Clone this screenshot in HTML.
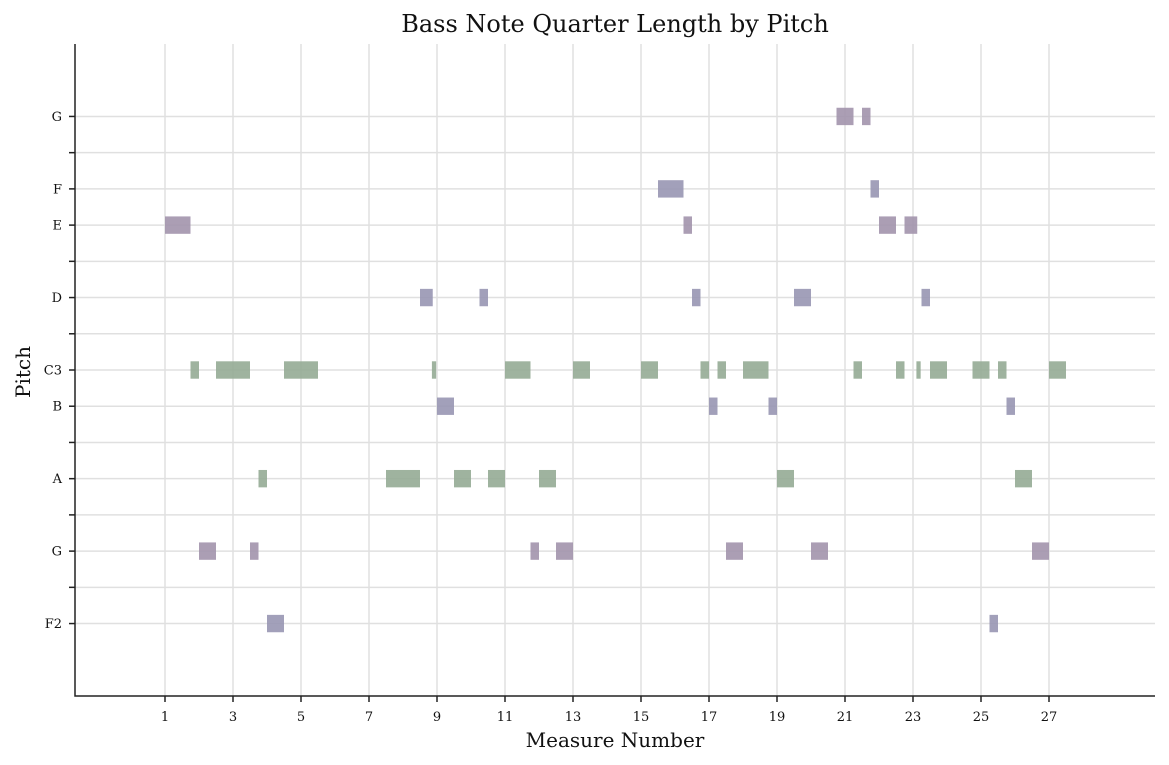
<!DOCTYPE html>
<html><head><meta charset="utf-8"><style>
body{margin:0;background:#fff;}
svg{display:block;font-family:"DejaVu Serif","Liberation Serif",serif;}
</style></head><body>
<svg id="chart" width="1169" height="765" viewBox="0 0 1169 765" xmlns="http://www.w3.org/2000/svg">
<text x="615" y="32" text-anchor="middle" font-size="24" fill="#111">Bass Note Quarter Length by Pitch</text>
<text x="615" y="747" text-anchor="middle" font-size="20" fill="#111">Measure Number</text>
<text transform="translate(30,372) rotate(-90)" text-anchor="middle" font-size="20" fill="#111">Pitch</text>
<g id="grid"></g><g id="bars"></g><g id="axes"></g>
</svg>
<script>
// data: [measure start, pitch (midi), quarter length]
const noteStarts = [1.0, 8.5,10.25, 1.75,2.5,4.5,8.85,11.0,11.5,13.0, 9.0, 3.75,7.5,8.0,9.5,10.5,12.0, 2.0,3.5,11.75,12.5, 4.0,
 20.75,21.5, 15.5,21.75, 16.25,22.0,22.75, 16.5,19.5,23.25, 15.0,16.75,17.25,18.0,21.25,22.5,23.1,23.5,24.75,25.5,27.0, 17.0,18.75,25.75, 19.0,26.0,26.25, 17.5,20.0,26.5,26.75, 25.25];
const notePitches = [52, 50,50, 48,48,48,48,48,48,48, 47, 45,45,45,45,45,45, 43,43,43,43, 41,
 55,55, 53,53, 52,52,52, 50,50,50, 48,48,48,48,48,48,48,48,48,48,48, 47,47,47, 45,45,45, 43,43,43,43, 41];
const noteLengths = [3, 1.5,1, 1,4,4,0.5,2,1,2, 2, 1,2,2,2,2,2, 2,1,1,2, 2,
 2,1, 3,1, 1,2,1.5, 1,2,1, 2,1,1,3,1,1,0.5,2,2,1,2, 1,1,1, 2,1,1, 2,2,1,1, 1];
const yTickValues = [41,43,45,47,48,50,52,53,55];
const yTickLabels = ["F2","G","A","B","C3","D","E","F","G"];
const yMinorTicks = [42,44,46,49,51,54];
const xTickValues = [1,3,5,7,9,11,13,15,17,19,21,23,25,27];

const NS="http://www.w3.org/2000/svg";
const X0=75,X1=1155,Y0=44,Y1=696;
const xMin=1-90/34, xMax=1+990/34, pMin=39, pMax=57;
const xs=m=>X0+(m-xMin)/(xMax-xMin)*(X1-X0);
const ys=p=>Y1-(p-pMin)/(pMax-pMin)*(Y1-Y0);
function mk(tag,attrs,parent){const e=document.createElementNS(NS,tag);for(const k in attrs)e.setAttribute(k,attrs[k]);parent.appendChild(e);return e;}
const grid=document.getElementById('grid'),bars=document.getElementById('bars'),axes=document.getElementById('axes');
[...yTickValues,...yMinorTicks].forEach(p=>{
 const l=mk('line',{x1:X0,x2:X1,y1:ys(p),y2:ys(p),stroke:'#e0e0e0','stroke-width':1.5},grid);
 
 
});
xTickValues.forEach(m=>{
 const l=mk('line',{x1:xs(m),x2:xs(m),y1:Y0,y2:Y1,stroke:'#e0e0e0','stroke-width':1.5},grid);
 
 
});
function color(p){const pc=p%12;if(pc===0||pc===9)return '#95ab95';if(pc===2||pc===11||pc===5)return '#9896b2';return '#a294ac';}
const qPx=(xs(2)-xs(1))/4;
for(let i=0;i<noteStarts.length;i++){
 const h=(ys(0)-ys(1))*0.48;
 const r=mk('rect',{x:xs(noteStarts[i]),y:ys(notePitches[i])-h/2,width:noteLengths[i]*qPx,height:h,fill:color(notePitches[i]),'fill-opacity':0.9},bars);
 
 
}
const ax=mk('path',{d:`M${X0},${Y0}V${Y1}H${X1}`,fill:'none',stroke:'#222','stroke-width':1.5},axes);


yTickValues.forEach((p,i)=>{
 mk('line',{x1:X0-6,x2:X0,y1:ys(p),y2:ys(p),stroke:'#222','stroke-width':1.5},axes);
 const t=mk('text',{x:X0-13,y:ys(p)+4.5,'text-anchor':'end','font-size':13,fill:'#111'},axes);
 t.textContent=yTickLabels[i];
 
 
});
yMinorTicks.forEach(p=>{mk('line',{x1:X0-6,x2:X0,y1:ys(p),y2:ys(p),stroke:'#222','stroke-width':1.5},axes);});
xTickValues.forEach(m=>{
 mk('line',{x1:xs(m),x2:xs(m),y1:Y1,y2:Y1+6,stroke:'#222','stroke-width':1.5},axes);
 const t=mk('text',{x:xs(m),y:Y1+25,'text-anchor':'middle','font-size':13,fill:'#111'},axes);
 t.textContent=m;
 
 
});
</script>
</body></html>
